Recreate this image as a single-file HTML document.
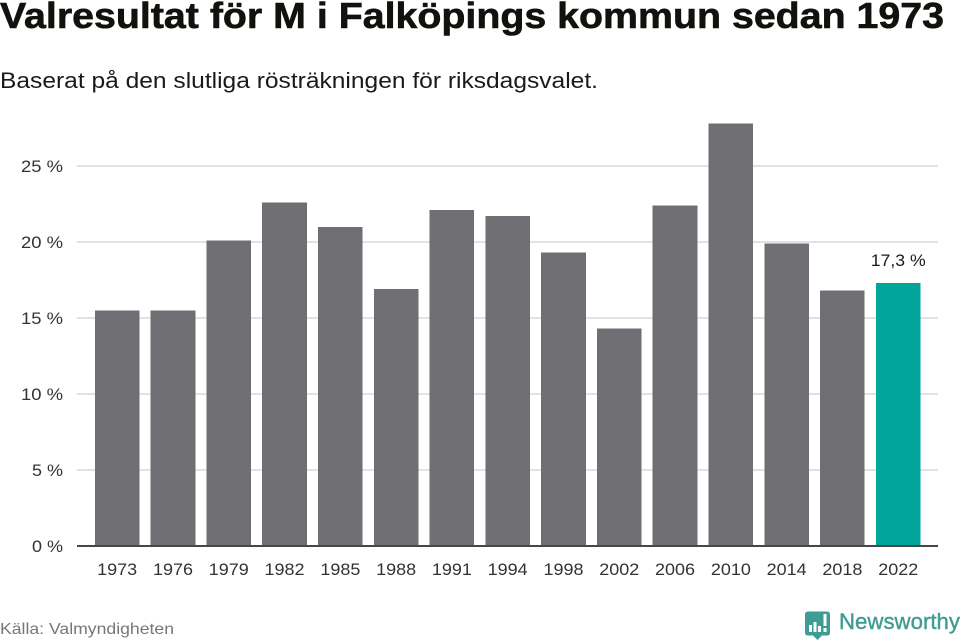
<!DOCTYPE html>
<html lang="sv">
<head>
<meta charset="utf-8">
<title>Valresultat för M i Falköpings kommun sedan 1973</title>
<style>
html,body{margin:0;padding:0;background:#fff;width:960px;height:640px;overflow:hidden}
svg{display:block}
text{font-family:"Liberation Sans",sans-serif}
</style>
</head>
<body>
<svg id="chart" width="960" height="640" viewBox="0 0 960 640" xmlns="http://www.w3.org/2000/svg">
<text x="0" y="28" font-size="36" font-weight="700" fill="#11110d" stroke="#11110d" stroke-width="0.600" textLength="944" lengthAdjust="spacingAndGlyphs">Valresultat för M i Falköpings kommun sedan 1973</text>
<text x="0" y="88" font-size="22" fill="#1a1a18" textLength="598" lengthAdjust="spacingAndGlyphs">Baserat på den slutliga rösträkningen för riksdagsvalet.</text>
<g id="grid"></g>
<g id="bars"></g>
<g id="xlabels"></g>
<g id="ylabels"></g>
<line x1="77" x2="938" y1="546" y2="546" stroke="#47464a" stroke-width="2"/>
<text x="0" y="634" font-size="16" fill="#77767a" textLength="174" lengthAdjust="spacingAndGlyphs">Källa: Valmyndigheten</text>
<g>
<path d="M808 611.500h19q3 0 3 3v18q0 3-3 3h-5l-4.500 4.500-4.500-4.500h-5q-3 0-3-3v-18q0-3 3-3z" fill="#3f9c94"/>
<rect x="809" y="625" width="3" height="7" fill="#fff"/>
<rect x="813.500" y="622" width="3" height="10" fill="#fff"/>
<rect x="818" y="626" width="3" height="6" fill="#fff"/>
<rect x="823.500" y="614" width="3" height="12" fill="#fff"/>
<rect x="823.500" y="628" width="3" height="4" fill="#fff"/>
<text x="839" y="629" font-size="22" fill="#3f9c94" stroke="#3f9c94" stroke-width="0.400" textLength="121" lengthAdjust="spacingAndGlyphs">Newsworthy</text>
</g>
</svg>
<script>
const categories = ["1973","1976","1979","1982","1985","1988","1991","1994","1998","2002","2006","2010","2014","2018","2022"];
const seriesValues = [15.5,15.5,20.1,22.6,21.0,16.9,22.1,21.7,19.3,14.3,22.4,27.8,19.9,16.8,17.3];
const yTicks = [0,5,10,15,20,25];
const highlightCategory = "2022";

const NS = "http://www.w3.org/2000/svg";
const plot = {left:89.300, right:926.100, bottom:546, pxPerUnit:15.200, gridLeft:77, gridRight:938};
const step = (plot.right - plot.left) / categories.length;
const barWidth = step * 0.8;
function xCenter(i){ return plot.left + step * (i + 0.5); }
function yPos(v){ return plot.bottom - v * plot.pxPerUnit; }
function fmt(v){ return String(v).replace(".", ","); }
function make(tag, attrs, parent, txt){
  const el = document.createElementNS(NS, tag);
  for (const k in attrs) el.setAttribute(k, attrs[k]);
  if (txt !== undefined) el.textContent = txt;
  parent.appendChild(el);
  return el;
}
const gridG = document.getElementById("grid");
const ylabG = document.getElementById("ylabels");
const barsG = document.getElementById("bars");
const xlabG = document.getElementById("xlabels");

yTicks.forEach(function(t){
  if (t !== 0) {
    const gl = make("line", {x1:plot.gridLeft, x2:plot.gridRight, y1:yPos(t), y2:yPos(t), stroke:"#e2e2e2", "stroke-width":2}, gridG);
    
    
  }
  const lab = make("text", {x:63, y:yPos(t)+6, "text-anchor":"end", "font-size":17, fill:"#333337"}, ylabG, t + " %");
  
  
  lab.setAttribute('textLength', t >= 10 ? '42' : '31');
  lab.setAttribute('lengthAdjust', 'spacingAndGlyphs');
});

categories.forEach(function(c, i){
  const v = seriesValues[i];
  const hi = c === highlightCategory;
  const bar = make("rect", {x:xCenter(i)-barWidth/2, y:yPos(v), width:barWidth, height:plot.bottom-yPos(v), fill: hi ? "#00a69a" : "#6f6e73", "shape-rendering":"crispEdges"}, barsG);
  
  
  const lab = make("text", {x:xCenter(i), y:575, "text-anchor":"middle", "font-size":17, fill:"#333337", textLength:40, lengthAdjust:"spacingAndGlyphs"}, xlabG, c);
  
  
  if (hi) {
    const val = make("text", {x:xCenter(i), y:yPos(v)-17, "text-anchor":"middle", "font-size":17, fill:"#1a1a18", textLength:55, lengthAdjust:"spacingAndGlyphs"}, barsG, fmt(v) + " %");
    
    
  }
});
</script>
</body>
</html>
